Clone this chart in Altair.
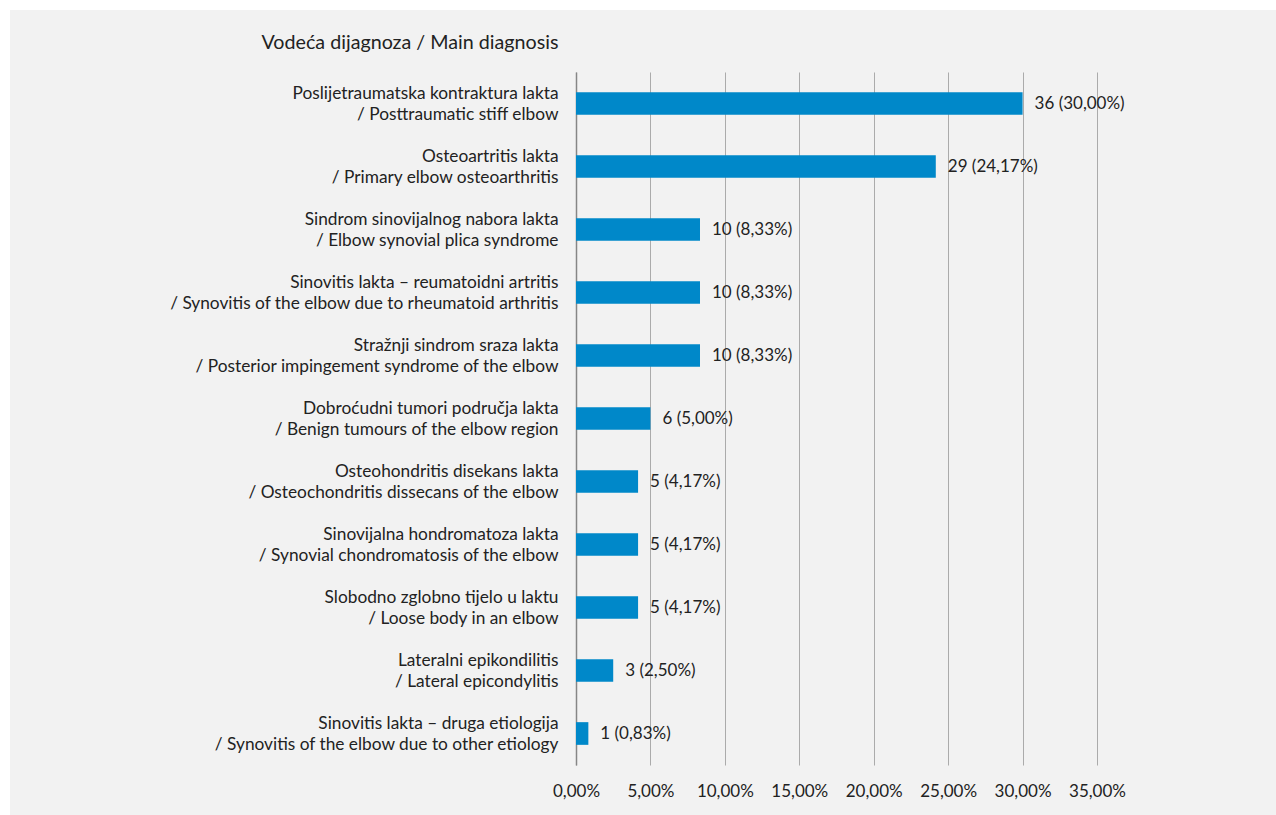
import altair as alt
import pandas as pd

labels_hr = [
    "Poslijetraumatska kontraktura lakta",
    "Osteoartritis lakta",
    "Sindrom sinovijalnog nabora lakta",
    "Sinovitis lakta – reumatoidni artritis",
    "Stražnji sindrom sraza lakta",
    "Dobroćudni tumori područja lakta",
    "Osteohondritis disekans lakta",
    "Sinovijalna hondromatoza lakta",
    "Slobodno zglobno tijelo u laktu",
    "Lateralni epikondilitis",
    "Sinovitis lakta – druga etiologija",
]
labels_en = [
    "/ Posttraumatic stiff elbow",
    "/ Primary elbow osteoarthritis",
    "/ Elbow synovial plica syndrome",
    "/ Synovitis of the elbow due to rheumatoid arthritis",
    "/ Posterior impingement syndrome of the elbow",
    "/ Benign tumours of the elbow region",
    "/ Osteochondritis dissecans of the elbow",
    "/ Synovial chondromatosis of the elbow",
    "/ Loose body in an elbow",
    "/ Lateral epicondylitis",
    "/ Synovitis of the elbow due to other etiology",
]
counts = [36, 29, 10, 10, 10, 6, 5, 5, 5, 3, 1]
percents = [30.00, 24.17, 8.33, 8.33, 8.33, 5.00, 4.17, 4.17, 4.17, 2.50, 0.83]
x_ticks = [0, 0.05, 0.10, 0.15, 0.20, 0.25, 0.30, 0.35]

cats = [a + "|" + b for a, b in zip(labels_hr, labels_en)]
df = pd.DataFrame({
    "cat": cats,
    "share": [p / 100 for p in percents],
    "label": [f"{c} ({p:.2f}%)".replace(".", ",") for c, p in zip(counts, percents)],
})

FONT = "Lato"
FS = 17
YFS = 17.3
TXT = "#222222"

one = pd.DataFrame({"a": [0]})
strip_left = alt.Chart(one).mark_rect(color="white").encode(
    x=alt.value(-580), x2=alt.value(-566), y=alt.value(-80), y2=alt.value(760)
)
strip_top = alt.Chart(one).mark_rect(color="white").encode(
    x=alt.value(-580), x2=alt.value(720), y=alt.value(-80), y2=alt.value(-62)
)

yenc = alt.Y(
    "cat:N",
    sort=cats,
    scale=alt.Scale(paddingInner=0.64, paddingOuter=0.32),
    axis=alt.Axis(
        title="Vodeća dijagnoza / Main diagnosis",
        titleAngle=0,
        titleAlign="right",
        titleBaseline="middle",
        titleX=-18,
        titleY=-30,
        titleFont=FONT,
        titleFontSize=19.7,
        titleFontWeight="normal",
        titleColor=TXT,
        labelExpr="split(datum.label, '|')",
        labelFont=FONT,
        labelFontSize=YFS,
        labelColor=TXT,
        labelLineHeight=21,
        labelBaseline="middle",
        labelOffset=-9.5,
        labelPadding=18,
        labelLimit=500,
        ticks=False,
        domain=True,
        domainColor="#868686",
        domainWidth=1.5,
        grid=False,
    ),
)

xenc = alt.X(
    "share:Q",
    scale=alt.Scale(domain=[0, 0.35], nice=False),
    axis=alt.Axis(
        title=None,
        values=x_ticks,
        labelExpr="replace(format(datum.value*100, '.2f'), '.', ',') + '%'",
        labelFont=FONT,
        labelFontSize=FS,
        labelColor=TXT,
        labelPadding=18,
        labelOverlap=False,
        labelFlush=False,
        ticks=False,
        domain=False,
        grid=True,
        gridColor="#ababab",
        gridWidth=1,
    ),
)

bars = alt.Chart(df).mark_bar(color="#0088C9").encode(x=xenc, y=yenc)
text = alt.Chart(df).mark_text(
    align="left", baseline="middle", dx=12, font=FONT, fontSize=FS, color=TXT
).encode(x="share:Q", y=alt.Y("cat:N", sort=cats), text="label:N")

chart = alt.layer(bars, text, strip_left, strip_top).properties(
    width=521,
    height=693,
    background="#f2f2f2",
    padding={"left": 576, "top": 72, "right": 179, "bottom": 50},
    autosize=alt.AutoSizeParams(type="none"),
).configure_view(stroke=None)

chart.save("out.html", embed_options={"renderer": "svg", "actions": False})
